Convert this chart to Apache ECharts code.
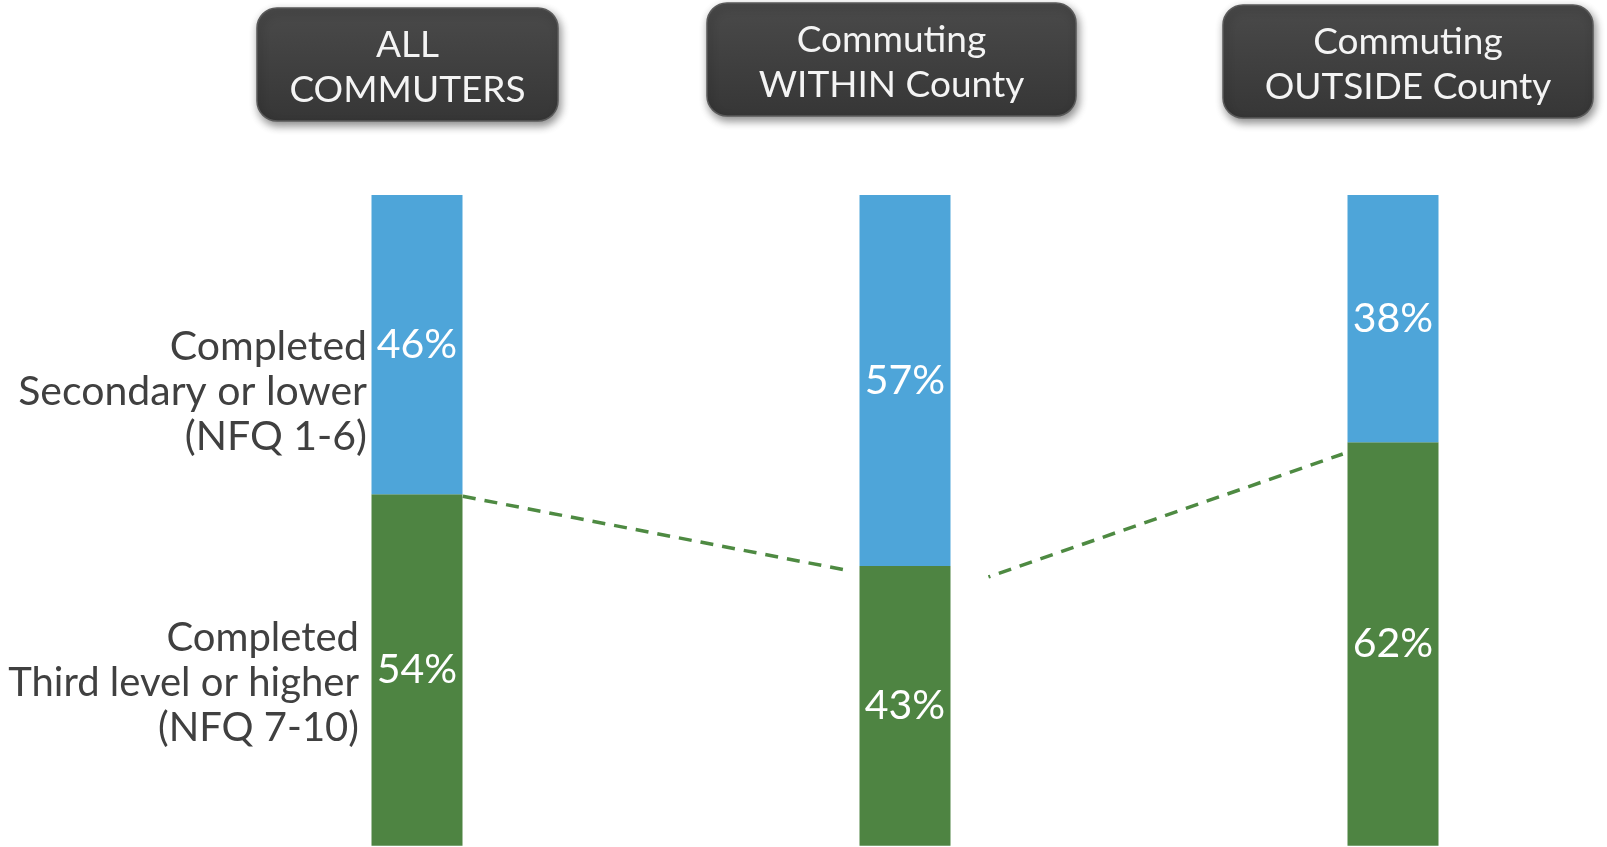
<!DOCTYPE html>
<html>
<head>
<meta charset="utf-8">
<title>Commuters by education level</title>
<script src="https://cdn.jsdelivr.net/npm/echarts@6/dist/echarts.min.js"></script>
<style>
  html, body { margin: 0; padding: 0; background: #ffffff; }
  #chart { width: 1607px; height: 847px; }
</style>
</head>
<body>
<div id="chart"></div>
<script>
// Commuter groups (one stacked column each)
const groups = ['ALL\nCOMMUTERS', 'Commuting\nWITHIN County', 'Commuting\nOUTSIDE County'];

// Share of each group by highest education completed (%)
const secondaryOrLower = [46, 57, 38];
const thirdLevelOrHigher = [54, 43, 62];

// Education level names
const levelNames = [
  'Completed\nSecondary or lower\n(NFQ 1-6)',
  'Completed\nThird level or higher\n(NFQ 7-10)'
];

// Dashed connectors between columns: [column position, percent]
const connectorA = [[0.094, 53.7], [0.890, 42.2]];
const connectorB = [[1.171, 41.3], [1.897, 60.2]];

const FONT = 'Lato, "Noto Sans", sans-serif';
const BLUE = '#4ea5d9';
const GREEN = '#4e8442';

const chart = echarts.init(document.getElementById('chart'), null, { renderer: 'canvas' });

// Header plaques above the columns
const headerBoxes = [
  { x: 257, y: 8, w: 301, h: 113 },
  { x: 707, y: 3, w: 369, h: 113 },
  { x: 1223, y: 5, w: 370, h: 113 }
];

const graphics = [];
headerBoxes.forEach(function (b, i) {
  graphics.push({
    type: 'rect',
    shape: { x: b.x, y: b.y, width: b.w, height: b.h, r: 20 },
    style: {
      fill: new echarts.graphic.LinearGradient(0, 0, 0, 1, [
        { offset: 0, color: '#4a4a4a' },
        { offset: 0.5, color: '#404040' },
        { offset: 1, color: '#363636' }
      ]),
      stroke: '#5a5a5a',
      lineWidth: 1.5,
      shadowBlur: 8,
      shadowOffsetX: 2,
      shadowOffsetY: 4,
      shadowColor: 'rgba(0,0,0,0.45)'
    },
    z: 10
  });
  graphics.push({
    type: 'text',
    style: {
      text: groups[i],
      x: b.x + b.w / 2,
      y: b.y + b.h / 2 + 3,
      align: 'center',
      verticalAlign: 'middle',
      fontFamily: FONT,
      fontSize: 37,
      lineHeight: 45,
      fill: '#f4f4f4'
    },
    z: 11
  });
});

// Education level names, left of the first column
graphics.push({
  type: 'text',
  style: {
    text: levelNames[0],
    x: 367, y: 392,
    align: 'right',
    verticalAlign: 'middle',
    fontFamily: FONT,
    fontSize: 41,
    lineHeight: 45,
    fill: '#404040'
  }
});
graphics.push({
  type: 'text',
  style: {
    text: levelNames[1],
    x: 359, y: 683,
    align: 'right',
    verticalAlign: 'middle',
    fontFamily: FONT,
    fontSize: 40,
    lineHeight: 45,
    fill: '#404040'
  }
});

const valueLabel = {
  show: true,
  position: 'inside',
  color: '#ffffff',
  fontFamily: FONT,
  fontSize: 41,
  formatter: function (p) { return p.value + '%'; }
};

// Columns sit on the axis ticks (no boundary gap), so the grid spans
// from the first column's centre to the last one's.
const option = {
  animation: false,
  backgroundColor: '#ffffff',
  grid: { left: 417, right: 214, top: 195, bottom: 1.3, containLabel: false },
  xAxis: [
    {
      type: 'category',
      data: groups,
      show: false,
      boundaryGap: false
    },
    {
      type: 'value',
      min: 0,
      max: 2,
      show: false
    }
  ],
  yAxis: {
    type: 'value',
    min: 0,
    max: 100,
    show: false
  },
  graphic: graphics,
  series: [
    {
      name: 'Third level or higher (NFQ 7-10)',
      type: 'bar',
      stack: 'edu',
      xAxisIndex: 0,
      barWidth: 91,
      clip: false,
      data: thirdLevelOrHigher,
      itemStyle: { color: GREEN },
      label: valueLabel
    },
    {
      name: 'Secondary or lower (NFQ 1-6)',
      type: 'bar',
      stack: 'edu',
      xAxisIndex: 0,
      barWidth: 91,
      clip: false,
      data: secondaryOrLower,
      itemStyle: { color: BLUE },
      label: valueLabel
    },
    {
      type: 'line',
      xAxisIndex: 1,
      data: connectorA,
      symbol: 'none',
      silent: true,
      clip: false,
      lineStyle: { color: '#4e8a42', width: 3.5, type: [13, 9], dashOffset: 0 },
      z: 5
    },
    {
      type: 'line',
      xAxisIndex: 1,
      data: connectorB,
      symbol: 'none',
      silent: true,
      clip: false,
      lineStyle: { color: '#4e8a42', width: 3.5, type: [13, 9], dashOffset: 11 },
      z: 5
    }
  ]
};

chart.setOption(option);
</script>
</body>
</html>
